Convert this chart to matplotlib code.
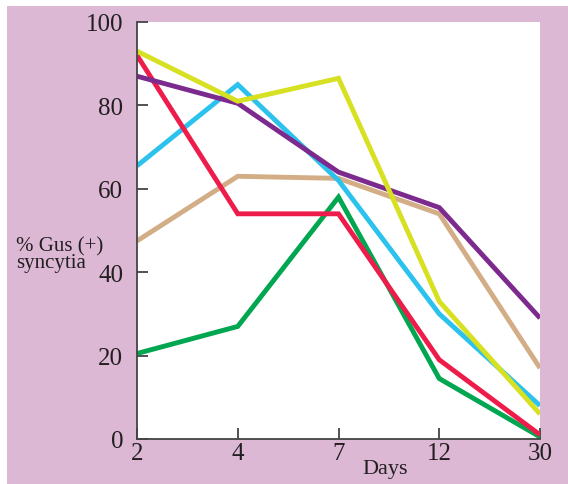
import matplotlib.pyplot as plt
from matplotlib.patches import Rectangle

days = ['2', '4', '7', '12', '30']
yellow = [93, 81, 86.5, 33, 6]
red = [92, 54, 54, 19, 1]
purple = [87, 80.5, 64, 55.5, 29]
blue = [65.5, 85, 62, 30, 8]
tan = [47.5, 63, 62.5, 54, 17]
green = [20.5, 27, 58, 14.5, 0.5]

plt.rcParams['font.family'] = ['Liberation Serif', 'DejaVu Serif']

fig = plt.figure(figsize=(5.68, 4.85), dpi=100)
fig.patch.set_facecolor('white')
fig.patches.append(Rectangle((7 / 568, 0), 1, 1 - 7 / 485, transform=fig.transFigure,
                             facecolor='#dcb8d5', edgecolor='none', zorder=-10))

ax = fig.add_axes([137 / 568, 45 / 485, 403 / 568, 417 / 485])
ax.set_facecolor('white')

x = range(len(days))
series = [(tan, '#d2ad85'), (blue, '#2cc2ee'), (green, '#00a650'),
          (red, '#ee1c4a'), (purple, '#7d2a8e'), (yellow, '#d7e021')]
for vals, col in series:
    ax.plot(x, vals, color=col, lw=3.5, solid_capstyle='butt', solid_joinstyle='miter')

ax.set_xlim(0, 4)
ax.set_ylim(0, 100)
ax.set_xticks(list(x))
ax.set_xticklabels(days)
ax.set_yticks([0, 20, 40, 60, 80, 100])
for s in ['top', 'right']:
    ax.spines[s].set_visible(False)
for s in ['left', 'bottom']:
    ax.spines[s].set_color('#444444')
    ax.spines[s].set_linewidth(1.3)
ax.tick_params(direction='in', length=8, width=1.3, color='#444444',
               labelsize=18, labelcolor='#231f20')
ax.tick_params(axis='y', pad=10)
ax.tick_params(axis='x', pad=2)

fig.text(16 / 568, 1 - 255 / 485, '% Gus (+)\nsyncytia', fontsize=15, color='#231f20',
         ha='left', va='center', linespacing=0.85)
fig.text(385 / 568, 1 - 470 / 485, 'Days', fontsize=16, color='#231f20',
         ha='center', va='center')

fig.savefig('out.png', dpi=100)
